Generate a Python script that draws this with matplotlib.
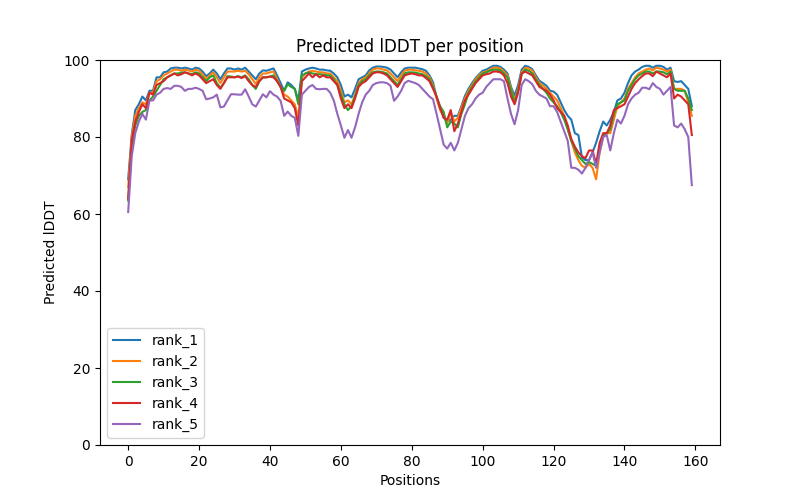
import matplotlib
matplotlib.use('Agg')
import matplotlib.pyplot as plt

# pLDDT per residue for the five ranked models
rank_1 = [69, 80.5, 87, 88.5, 90.5, 89.5, 92, 92, 95.5, 95.5,
          96.8, 97, 97.8, 98, 98, 97.8, 98, 97.8, 97.5, 98,
          97.8, 97, 95.8, 96.5, 97.5, 96.5, 95, 96.5, 97.8, 97.8,
          97.5, 97.8, 97.5, 98, 97, 96, 95, 96.5, 97.3, 97.2,
          97.5, 97.8, 96, 94, 92, 94.2, 93.5, 92.5, 89.5, 97,
          97.5, 97.8, 98, 97.8, 97.5, 97.5, 97.3, 97.2, 96.5, 95.5,
          93.5, 90.5, 91, 90.3, 92.5, 95, 95.5, 96, 97.3, 98,
          98.3, 98.3, 98.2, 98, 97.5, 96.5, 95.5, 96.8, 97.8, 98,
          98, 98, 97.8, 97.6, 97.2, 96, 94.2, 90.3, 87.5, 85,
          84, 84.5, 85.5, 85.5, 88, 90.7, 92.5, 94, 95.3, 96.3,
          97.2, 97.5, 98, 98.5, 98.5, 98.2, 97.5, 96.5, 93, 90.7,
          93.5, 97.5, 98.5, 98.2, 97.6, 96, 94.6, 94, 93.3, 92,
          91.8, 91, 89, 87, 85.5, 84.5, 81, 80.5, 74.7, 74,
          74, 76, 78.5, 81.5, 84, 83, 84.5, 86.5, 89.5, 90,
          91.5, 94, 96, 97, 97.5, 98.2, 98.5, 98.5, 98, 98.5,
          98.5, 98.2, 97.5, 98, 94.5, 94.3, 94.5, 93.5, 92.5, 88]

rank_2 = [67, 80, 85.5, 87.5, 89, 88.5, 91.5, 91.5, 94.5, 95,
          96, 96.5, 97, 97.5, 97.5, 97.2, 97.5, 97.3, 97, 97.5,
          97.2, 96.3, 95, 96, 96.8, 95.5, 94, 95.5, 97, 97,
          97, 97.2, 97, 97.2, 96.3, 95, 93.8, 95.5, 96.5, 96.5,
          96.8, 97, 95, 93, 91, 90.5, 89.5, 88.5, 85, 95.5,
          96.5, 97, 97.2, 97, 96.8, 96.8, 96.5, 96.5, 95.5, 94.5,
          92, 89, 89.5, 88.5, 91, 94, 95, 95.5, 96.5, 97.5,
          97.8, 97.8, 97.5, 97.3, 96.5, 95.5, 94.5, 96, 97.2, 97.5,
          97.5, 97.3, 97.2, 97, 96.5, 95.5, 93.5, 90, 87, 85.5,
          83.5, 86.5, 84, 85, 87.5, 90, 92, 93.5, 95, 96,
          96.8, 97, 97.5, 98, 98, 97.8, 97, 96, 92.5, 89.5,
          92.5, 96.8, 98, 97.8, 97.2, 95.5, 94, 93.3, 92.5, 91.5,
          90.5, 89.5, 87.5, 85.5, 82, 79, 76, 74, 72.5, 72,
          73, 72, 69, 76, 80, 81, 81, 84.5, 88, 89,
          90, 92.5, 94, 95.5, 96.5, 97, 97.5, 97.8, 97.3, 98,
          97.8, 97.5, 97, 97.5, 92.5, 92.5, 92.5, 92, 89, 85.5]

rank_3 = [63.5, 77, 83, 85.5, 86.5, 87, 89.5, 90.5, 92, 93.5,
          95, 95.5, 96, 96.5, 96.5, 96.7, 96.8, 96.5, 96.3, 96.8,
          96.5, 95.5, 94.5, 95.5, 96, 94, 92.8, 94, 95.8, 95.7,
          95.5, 95.8, 95.5, 96, 95, 93.5, 92.5, 94.5, 95.5, 95.5,
          95.7, 96, 94.5, 93, 92, 93.7, 93, 92.5, 88.5, 96,
          96.5, 96.8, 96.5, 96.3, 96.3, 96.2, 96, 96, 95, 93.5,
          91, 88.5, 87, 88, 90.5, 93.5, 94.5, 95, 96, 96.8,
          97, 97, 96.8, 96.5, 95.5, 94.5, 93.5, 95, 96.5, 96.8,
          96.8, 96.7, 96.5, 96.3, 95.8, 95, 93, 90.5, 88, 86.5,
          82.5, 84, 83.5, 82.5, 86, 88.5, 91.5, 93, 94.5, 95.5,
          96.5, 96.8, 97.2, 97.5, 97.5, 97.3, 96.5, 95.5, 92, 89,
          92, 96.3, 97.5, 97.2, 96.5, 95, 93.5, 92.5, 91.5, 90,
          89, 88, 86.5, 84.5, 82, 79, 77, 75, 74, 73,
          73.5, 73, 72.5, 77, 80.5, 81, 82, 86, 88.5, 89,
          89.5, 92, 93.5, 95, 96, 96.5, 97, 97, 96.5, 97,
          97, 96.8, 96.3, 97, 92.5, 92, 92, 92, 90, 87]

rank_4 = [64, 79, 84, 86.5, 88.5, 87.5, 91.5, 91, 93.5, 94,
          94.5, 95.5, 96, 96.5, 96, 96.3, 96.8, 96.5, 96, 96.5,
          96, 95, 94, 94.5, 95, 93.5, 92.5, 94, 95.5, 95.5,
          95.5, 95.7, 95.3, 95.8, 94.5, 93.5, 93, 94.5, 95.5, 95.5,
          95.7, 95.5, 94.5, 93, 90, 89.5, 89, 87.5, 83, 94.5,
          95.5, 96.5, 95.5, 96.3, 95.5, 96, 95.5, 95.5, 94.5, 93.5,
          90, 87.5, 88.5, 87.5, 90, 93, 94, 94.5, 95.5, 96.5,
          96.8, 96.8, 96.5, 96, 95, 94, 93, 94.5, 96, 96.3,
          96.5, 96.3, 96, 96, 95.3, 94.5, 92.5, 90.5, 87.5, 85,
          84.5, 87, 81.5, 83.5, 86.5, 89.5, 91, 92.5, 94, 95,
          96, 96.3, 96.5, 97, 97, 96.8, 96, 94, 90.5, 88.5,
          91.5, 96.5, 97, 96.5, 96, 94.5, 93, 92.5, 92, 91,
          89.5, 87.5, 86.5, 85.5, 83, 79.5, 77.5, 76, 75, 74.5,
          76.5, 76.5, 73, 78.5, 81, 81, 83, 87, 87.5, 88,
          88.5, 90.5, 92.5, 94, 95, 95.8, 96.5, 96.5, 95.8, 97,
          96.5, 96, 95.5, 96.5, 90, 91, 90.5, 89.5, 88.5, 80.5]

rank_5 = [60.5, 75, 81, 84, 86, 84.5, 89.5, 89.5, 91, 91.5,
          92.5, 92.7, 92.5, 93.3, 93.3, 93, 92, 92.5, 92.5, 92.8,
          92.5, 92, 89.8, 90, 90.3, 91, 87.7, 87.9, 89.5, 91.1,
          91.1, 91, 91, 92.4, 90.5, 88.5, 87.9, 89.5, 91.1, 90.3,
          91.9, 91, 90.5, 89.4, 85.5, 86.6, 85.5, 85, 80.3, 91,
          92, 93, 93.5, 92.5, 92.4, 92.5, 92.5, 91.5, 89.5, 86,
          83, 79.8, 81.8, 79.8, 82.5, 86, 89, 91, 92, 93.5,
          94, 94.2, 94.2, 94, 93.3, 89.4, 90.5, 92, 94, 94.6,
          94.3, 94, 93.5, 92.5, 91.5, 90.5, 89.8, 86, 82, 78,
          77, 78.5, 76.5, 78.5, 82, 85.5, 87.5, 88.5, 90, 91,
          91.5, 93, 94, 95, 95, 95, 94.5, 90, 86, 83.3,
          87, 93.5, 95, 94.5, 93.7, 92, 91, 90.5, 90, 88,
          88, 86.5, 84, 81.5, 79, 72, 72, 71.5, 70.5, 72,
          74, 76, 72, 76, 80, 80.5, 76.5, 81, 84.5, 83.5,
          85.5, 88.5, 90, 91, 91.5, 92.8, 92.8, 92.4, 94, 93,
          92.5, 91, 92, 93, 83, 82.5, 83.5, 82, 80, 67.5]

ranks = [rank_1, rank_2, rank_3, rank_4, rank_5]

plt.figure(figsize=(8, 5), dpi=100)
plt.title("Predicted lDDT per position")
for n, plddt in enumerate(ranks):
    plt.plot(plddt, label=f"rank_{n + 1}")
plt.legend(loc='lower left')
plt.ylim(0, 100)
plt.ylabel("Predicted lDDT")
plt.xlabel("Positions")
plt.savefig("out.png", dpi=100)
